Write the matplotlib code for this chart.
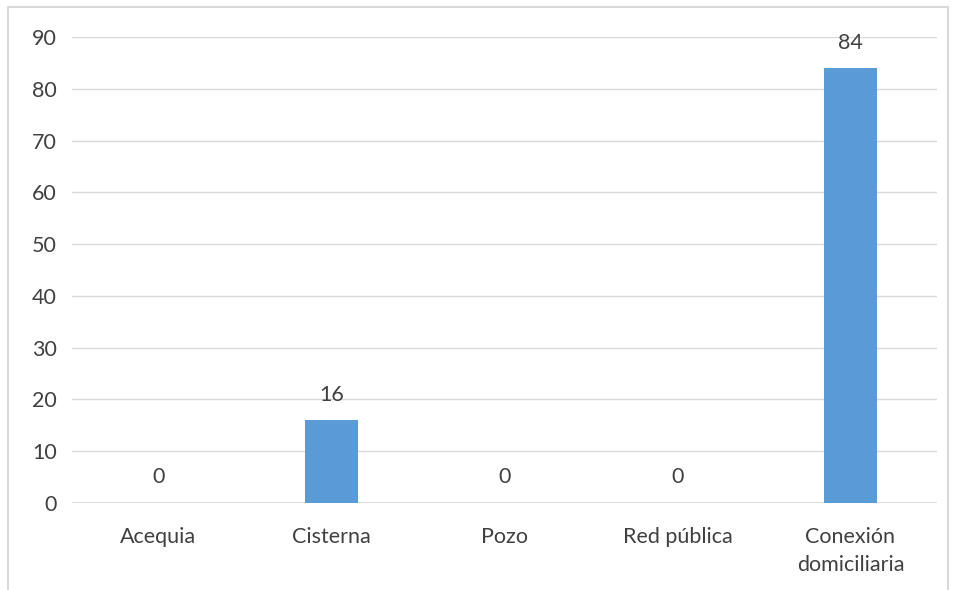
import matplotlib.pyplot as plt
from matplotlib.patches import Rectangle

# categories and counts
categorias = ['Acequia', 'Cisterna', 'Pozo', 'Red pública', 'Conexión\ndomiciliaria']
valores = [0, 16, 0, 0, 84]
yticks = [0, 10, 20, 30, 40, 50, 60, 70, 80, 90]

plt.rcParams['font.family'] = ['Lato', 'DejaVu Sans']
fs = 15.5
gris = '#404040'

fig = plt.figure(figsize=(9.54, 5.9), dpi=100)
ax = fig.add_axes([72/954, 87/590, 865/954, 466/590])

x = range(len(categorias))
ax.bar(x, valores, width=0.31, color='#5b9bd5', zorder=3)
for xi, v in zip(x, valores):
    ax.text(xi, v + 3, str(v), ha='center', va='bottom', fontsize=fs, color=gris)

ax.set_xlim(-0.5, 4.5)
ax.set_ylim(0, 90)
ax.set_yticks(yticks)
ax.set_xticks(list(x))
ax.set_xticklabels(categorias, fontsize=fs, color=gris, linespacing=1.55)
ax.tick_params(axis='y', labelsize=fs, labelcolor=gris, length=0, pad=11)
ax.tick_params(axis='x', length=0, pad=17)
ax.grid(axis='y', color='#d9d9d9', linewidth=1, zorder=0)
for s in ax.spines.values():
    s.set_visible(False)
ax.axhline(0, color='#d9d9d9', linewidth=1.2, zorder=2)

# outer frame
fig.patches.append(Rectangle((8.5/954, -0.02), 940/954, (590-6.5)/590 + 0.02,
                             transform=fig.transFigure, fill=False,
                             edgecolor='#d9d9d9', linewidth=1.5))

fig.savefig('out.png', dpi=100)
